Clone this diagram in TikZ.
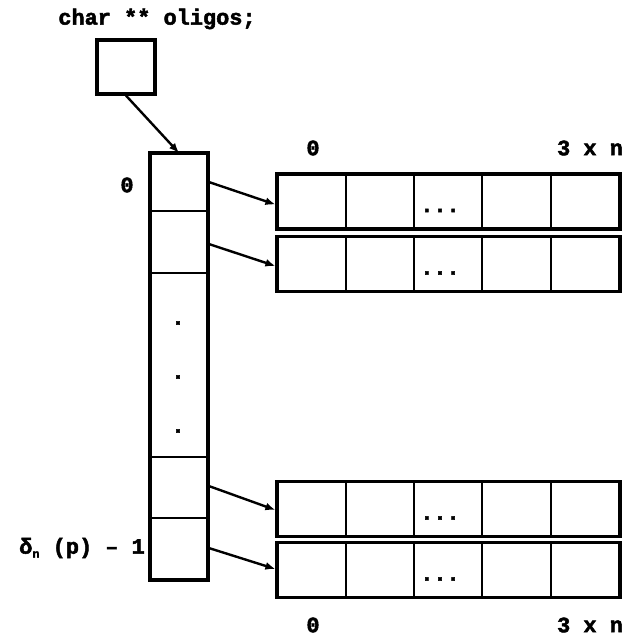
\documentclass[tikz,border=0pt]{standalone}
\usepackage{fontspec}
\setmainfont{Liberation Mono}[BoldFeatures={FakeBold=2.2}]
\usetikzlibrary{arrows.meta}
\begin{document}
\begin{tikzpicture}[x=1bp,y=-1bp,
  lbl/.style={font=\fontsize{22}{24}\selectfont\bfseries, inner sep=0pt},
  thick box/.style={draw, line width=3.2bp, inner sep=0pt},
  cellbox/.style={draw, line width=1.6bp, inner sep=0pt, minimum width=58bp},
  rowbox/.style={draw, line width=3.2bp, inner sep=0pt, minimum width=343bp, minimum height=55bp},
  divider/.style={line width=1.6bp},
  conn/.style={line width=2.4bp, -{Latex[length=10bp,width=8bp]}},
  dotlbl/.style={font=\fontsize{22}{24}\selectfont\bfseries, inner sep=0pt}
]
\useasboundingbox (0,0) rectangle (625,639);
% title
\node[lbl] (title) at (157,19) {char ** oligos;};
% pointer box
\node[thick box, minimum width=58bp, minimum height=54bp] (ptr) at (126,67) {};
% column cells
\node[cellbox, minimum height=58bp] (c1) at (179,182) {};
\node[cellbox, minimum height=62bp] (c2) at (179,242) {};
\node[cellbox, minimum height=184bp] (cm) at (179,365) {};
\node[cellbox, minimum height=61bp] (c3) at (179,487.5) {};
\node[cellbox, minimum height=62bp] (c4) at (179,549) {};
\draw[line width=3.2bp] (150,153) rectangle (208,580);
\coordinate (coltop) at (179,153);
% dots in column
\node[dotlbl] (d1) at (178,323) {.};
\node[dotlbl] (d2) at (178,377) {.};
\node[dotlbl] (d3) at (178,431) {.};
% rows
\foreach \n/\y in {r1/201.5, r2/264, r3/509, r4/570}{
  \node[rowbox] (\n) at (448.5,\y) {};
  \foreach \xx in {346,414,482,551}{
    \draw[divider] (\xx,\y-27.5) -- (\xx,\y+27.5);
  }
  \node[lbl] (\n dots) at (440,\y+9) {...};
}
% arrows
\draw[conn] (ptr.south) -- (coltop);
\draw[conn] (c1.east) -- ([yshift=-3bp]r1.west);
\draw[conn] ([yshift=-2bp]c2.east) -- ([yshift=-2bp]r2.west);
\draw[conn] ([yshift=1.5bp]c3.east) -- ([yshift=-1bp]r3.west);
\draw[conn] ([yshift=1bp]c4.east) -- ([yshift=1bp]r4.west);
% labels
\node[lbl] (top0) at (313,148) {0};
\node[lbl] (top3n) at (590,148) {3 x n};
\node[lbl] (bot0) at (313,625) {0};
\node[lbl] (bot3n) at (590,625) {3 x n};
\node[lbl] (idx0) at (127,185) {0};
\node[lbl, anchor=east] (idxlast) at (145,548) {δ\raisebox{-0.35ex}{\fontsize{12}{12}\selectfont n} (p) – 1};
\end{tikzpicture}
\end{document}
